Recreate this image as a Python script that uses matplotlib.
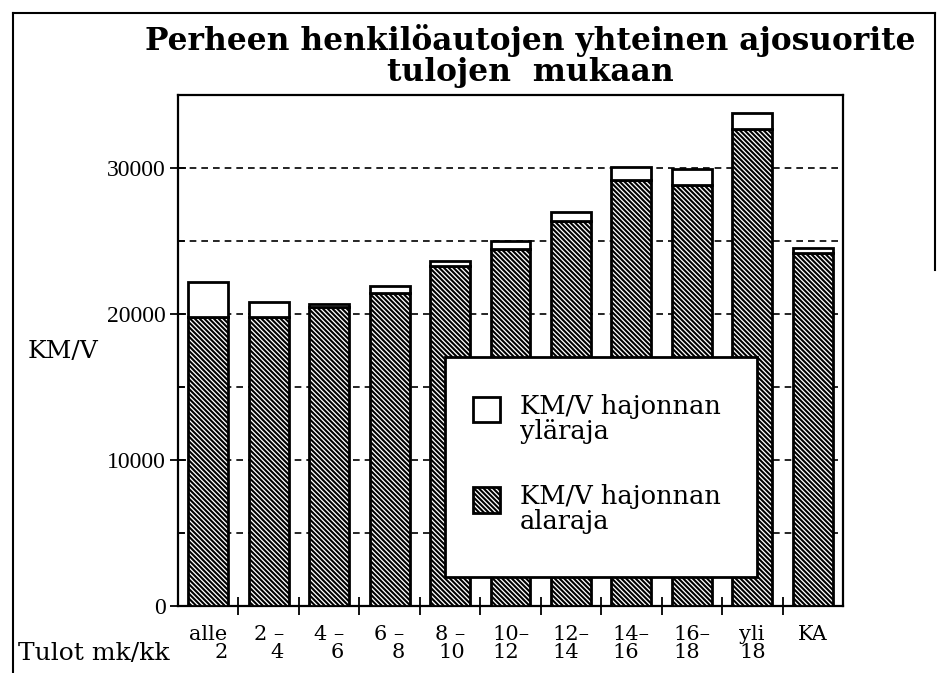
import numpy as np
import matplotlib
matplotlib.use("Agg")
import matplotlib.pyplot as plt
from matplotlib.patches import Rectangle
from matplotlib.lines import Line2D

plt.rcParams['font.family'] = ['DejaVu Serif']
plt.rcParams['hatch.linewidth'] = 1.5

# tulot (1000 mk/kk) -> ajosuorite km/v
categories = ["alle\n2", "2 –\n4", "4 –\n6", "6 –\n8", "8 –\n10",
              "10–\n12", "12–\n14", "14–\n16", "16–\n18", "yli\n18", "KA"]
ylaraja = [22200, 20800, 20700, 21900, 23650, 25000, 27000, 30050, 29900, 33800, 24500]
alaraja = [19800, 19800, 20450, 21450, 23280, 24450, 26400, 29150, 28850, 32700, 24200]

yticks = [0, 10000, 20000, 30000]
yminor = [5000, 15000, 25000]

HATCH = '\\' * 7

fig = plt.figure(figsize=(9.38, 6.73), dpi=100)
ax = fig.add_axes([178/938, 1-606/673, (843-178)/938, (606-95)/673])

x = np.arange(len(categories))
ax.bar(x, alaraja, width=0.66, color='white', edgecolor='black',
       hatch=HATCH, linewidth=2, zorder=3)
ax.bar(x, np.subtract(ylaraja, alaraja), bottom=alaraja, width=0.66,
       color='white', edgecolor='black', linewidth=2, zorder=3)

ax.set_xlim(-0.5, 10.5)
ax.set_ylim(0, 35000)

ax.set_yticks(yticks)
ax.set_yticks(yminor, minor=True)
ax.set_yticklabels([str(v) for v in yticks], family='Liberation Serif', fontsize=17)
ax.yaxis.grid(True, which='both', linestyle=(0, (4, 3)), color='black', linewidth=1.2)
ax.set_axisbelow(True)
ax.tick_params(axis='y', which='major', direction='inout', length=12, width=1.3, pad=3)
ax.tick_params(axis='y', which='minor', direction='in', length=5, width=1.2)

# tick marks between bars, labels under bars
ax.set_xticks(np.arange(0.5, 10, 1))
ax.set_xticklabels([])
ax.set_xticks(x, minor=True)
ax.set_xticklabels(categories, minor=True, fontsize=15, linespacing=0.9, va='top')
ax.tick_params(axis='x', which='major', direction='inout', length=13, width=1.3)
ax.tick_params(axis='x', which='minor', length=0, pad=14)
for i, lab in enumerate(ax.get_xticklabels(minor=True)):
    lab.set_multialignment('right' if i < 5 else 'left')

for s in ax.spines.values():
    s.set_linewidth(1.6)

# legend box
ax.add_patch(Rectangle((0.4015, 0.0568), 0.4692, 0.4302, transform=ax.transAxes,
                       facecolor='white', edgecolor='black', linewidth=2, zorder=6))
ax.add_patch(Rectangle((0.4436, 0.360), 0.040, 0.049, transform=ax.transAxes,
                       facecolor='white', edgecolor='black', linewidth=2, zorder=7))
ax.add_patch(Rectangle((0.4436, 0.182), 0.040, 0.051, transform=ax.transAxes,
                       facecolor='white', edgecolor='black', hatch=HATCH,
                       linewidth=2, zorder=7))
ax.text(0.514, 0.414, "KM/V hajonnan\nyläraja", transform=ax.transAxes, fontsize=18.5,
        va='top', ha='left', linespacing=1.0, zorder=8)
ax.text(0.514, 0.238, "KM/V hajonnan\nalaraja", transform=ax.transAxes, fontsize=18.5,
        va='top', ha='left', linespacing=1.0, zorder=8)

fig.text(530/938, 1-24/673, "Perheen henkilöautojen yhteinen ajosuorite\ntulojen  mukaan",
         ha='center', va='top', fontsize=22.5, weight='bold', linespacing=1.02)
fig.text(28/938, 1-352/673, "KM/V", fontsize=18, ha='left', va='center')
fig.text(18/938, 1-654/673, "Tulot mk/kk", fontsize=18, ha='left', va='center')

# outer frame of the original page
fig.add_artist(Line2D([13/938, 13/938], [0, 1-13/673], color='black', lw=1.5))
fig.add_artist(Line2D([13/938, 935/938], [1-13/673, 1-13/673], color='black', lw=1.5))
fig.add_artist(Line2D([935/938, 935/938], [1-13/673, 1-270/673], color='black', lw=1.5))

fig.savefig("out.png", dpi=100)
